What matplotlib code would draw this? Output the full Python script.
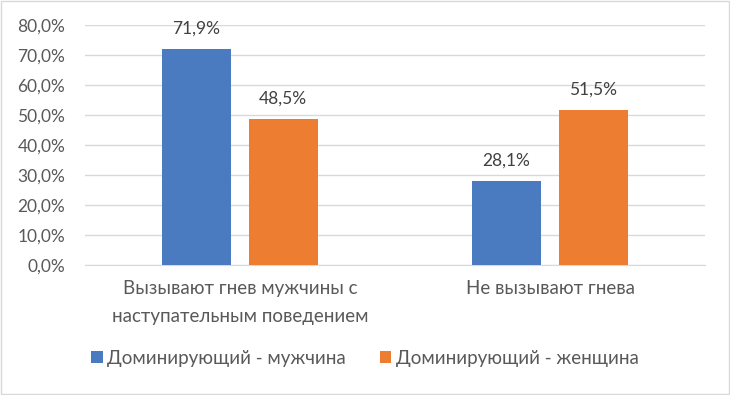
import numpy as np
import matplotlib.pyplot as plt
from matplotlib.ticker import FuncFormatter

categories = ["Вызывают гнев мужчины с\nнаступательным поведением", "Не вызывают гнева"]
series_names = ["Доминирующий - мужчина", "Доминирующий - женщина"]
male_dominant = [71.9, 28.1]
female_dominant = [48.5, 51.5]
colors = ["#4A7BC0", "#ED7D31"]

text_color = "#595959"
plt.rcParams["font.family"] = ["Lato", "DejaVu Sans"]

fig = plt.figure(figsize=(7.3, 3.95), dpi=100)
ax = fig.add_axes([0.116, 0.329, 0.85, 0.608])

x = np.arange(len(categories))
width = 0.223
offset = 0.14
for vals, name, color, sh in zip([male_dominant, female_dominant], series_names, colors, [-offset, offset]):
    bars = ax.bar(x + sh, vals, width, color=color, label=name, zorder=3)
    for b, v in zip(bars, vals):
        ax.annotate(f"{v:.1f}%".replace(".", ","), (b.get_x() + b.get_width() / 2, v),
                    xytext=(0, 9), textcoords="offset points", ha="center", va="bottom",
                    fontsize=12.5, color="#404040")

ax.set_xlim(-0.5, 1.5)
ax.set_ylim(0, 80)
ax.set_yticks(np.arange(0, 81, 10))
ax.yaxis.set_major_formatter(FuncFormatter(lambda v, p: f"{v:.1f}%".replace(".", ",")))
ax.set_xticks(x)
ax.set_xticklabels(categories, linespacing=1.75)
ax.tick_params(axis="both", length=0, colors=text_color)
ax.tick_params(axis="y", labelsize=12.5, pad=14)
ax.tick_params(axis="x", labelsize=13.5, pad=11)
ax.grid(axis="y", color="#D9D9D9", linewidth=1, zorder=0)
for s in ["top", "right", "left"]:
    ax.spines[s].set_visible(False)
ax.spines["bottom"].set_color("#D9D9D9")

leg = fig.legend(loc="center", bbox_to_anchor=(0.5, 0.093), ncol=2, frameon=False,
                 fontsize=13.5, handlelength=0.6, handleheight=0.6, handletextpad=0.25,
                 columnspacing=1.8)
for t in leg.get_texts():
    t.set_color(text_color)

fig.patches.append(plt.Rectangle((0.001, 0.002), 0.997, 0.996, transform=fig.transFigure,
                                 fill=False, edgecolor="#D9D9D9", linewidth=1))
fig.savefig("out.png", dpi=100)
